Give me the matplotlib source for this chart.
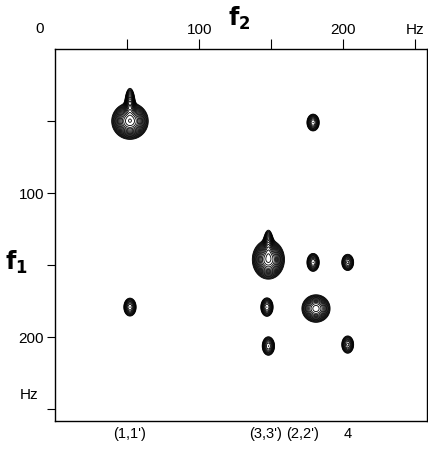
import numpy as np
import matplotlib.pyplot as plt
import matplotlib

matplotlib.rcParams['font.family'] = ['Liberation Sans', 'DejaVu Sans']

# cross peaks: f2 [Hz], f1 [Hz], height, width along f2, width along f1
peak_f2 = [52, 52, 179, 148, 148, 179, 203, 147, 181, 148, 203, 52]
peak_f1 = [50, 38, 51, 146, 136, 148, 148, 179, 180, 206, 205, 179]
peak_h = [3.0, 1.2, 0.8, 2.6, 1.0, 0.8, 0.7, 0.8, 1.6, 0.8, 0.7, 0.8]
peak_wx = [5.0, 1.6, 2.2, 4.5, 1.6, 2.2, 2.2, 2.2, 4.3, 2.2, 2.2, 2.2]
peak_wy = [5.0, 5.0, 3.0, 5.5, 5.0, 3.2, 3.0, 3.3, 4.2, 3.3, 3.2, 3.2]

tick_vals = [50, 100, 150, 200, 250]
x_ticklabels = ['', '100', '', '200', 'Hz']
y_ticklabels = ['', '100', '', '200', '']

assign_labels = ["(1,1')", "(3,3')", "(2,2')", "4"]
assign_pos = [52, 146, 172, 203]

f2 = np.linspace(0, 258, 700)
f1 = np.linspace(0, 258, 700)
X, Y = np.meshgrid(f2, f1)
Z = np.zeros_like(X)
for x0, y0, h, wx, wy in zip(peak_f2, peak_f1, peak_h, peak_wx, peak_wy):
    Z += h * np.exp(-((X - x0)**2 / (2 * wx**2) + (Y - y0)**2 / (2 * wy**2)))

fig = plt.figure(figsize=(4.28, 4.51), dpi=100)
ax = fig.add_axes([55/428, 1 - 421/451, 372/428, 372/451])

levels = np.geomspace(0.12, 3.0, 18)
ax.contour(X, Y, Z, levels=levels, colors='black', linewidths=0.6)

ax.set_xlim(0, 258)
ax.set_ylim(258, 0)
ax.xaxis.tick_top()
ax.set_xticks(tick_vals)
ax.set_xticklabels(x_ticklabels, fontsize=11)
ax.set_yticks(tick_vals)
ax.set_yticklabels(y_ticklabels, fontsize=11)
ax.tick_params(axis='x', direction='out', length=7, width=0.8, pad=2)
ax.tick_params(axis='y', direction='out', length=6, width=0.8, pad=2)
for s in ax.spines.values():
    s.set_linewidth(1.0)

ax.text(-11, -14, '0', fontsize=11, ha='center', va='center', clip_on=False)
ax.text(128, -12, '$\\mathbf{f_2}$', fontsize=17, ha='center', va='bottom', clip_on=False)
ax.text(-27, 148, '$\\mathbf{f_1}$', fontsize=17, ha='center', va='center', clip_on=False)
ax.text(-18, 240, 'Hz', fontsize=11, ha='center', va='center', clip_on=False)

for lab, x in zip(assign_labels, assign_pos):
    ax.text(x, 267, lab, fontsize=10.5, ha='center', va='center', clip_on=False)

fig.savefig('out.png', dpi=100)
